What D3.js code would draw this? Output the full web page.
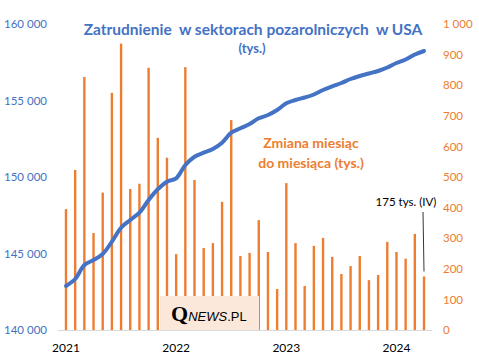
<!DOCTYPE html>
<html><head><meta charset="utf-8">
<script src="https://cdn.jsdelivr.net/npm/d3@7/dist/d3.min.js"></script>
<style>body{margin:0;background:#fff}svg{display:block}</style>
</head><body>
<svg id="c" width="479" height="364"></svg>
<script>
const months = d3.range(40).map(i => new Date(2021, i, 1));
const employment = [142876,143333,144248,144575,144967,145771,146686,147190,147667,148497,149196,149693,
  149915,150784,151327,151588,151830,152242,152896,153183,153464,153837,154052,154379,
  154817,155033,155196,155392,155686,155928,156144,156405,156601,156765,156928,157157,
  157451,157680,158007,158235];
const change = [395,523,827,317,449,775,936,461,478,857,628,563,
  248,859,490,268,284,419,686,242,252,359,255,134,
  480,284,144,275,301,239,183,209,242,163,180,288,
  255,233,314,175];
const leftTicks = [140000,145000,150000,155000,160000];
const rightTicks = [0,100,200,300,400,500,600,700,800,900,1000];
const yearLabels = ["2021","2022","2023","2024"];

const blue = "#4472C4", orange = "#ED7D31";
const font = "Lato, 'Open Sans', sans-serif";
const svg = d3.select("#c");

const x = d3.scaleBand().domain(d3.range(months.length)).range([58, 432]).padding(0.74);
const yL = d3.scaleLinear().domain([140000, 160000]).range([330, 24]);
const yR = d3.scaleLinear().domain([0, 1000]).range([330, 24]);
const cx = i => x(i) + x.bandwidth() / 2;

// bars
svg.append("g").selectAll("rect").data(change).join("rect")
  .attr("x", (d, i) => x(i)).attr("width", x.bandwidth())
  .attr("y", d => yR(d)).attr("height", d => yR(0) - yR(d))
  .attr("fill", orange);

// axis baseline
svg.append("line").attr("x1", 58).attr("x2", 432).attr("y1", 330.5).attr("y2", 330.5)
  .attr("stroke", "#d9d9d9").attr("stroke-width", 1);

// logo box
const logo = svg.append("g");
logo.append("rect").attr("x", 160).attr("y", 296).attr("width", 99).attr("height", 34).attr("fill", "#FCE8DA");
const lt = logo.append("text").attr("x", 171).attr("y", 321).attr("fill", "#000");
lt.append("tspan").attr("font-family", "'Liberation Serif', 'DejaVu Serif', serif").attr("font-weight", "bold").attr("font-size", 22).text("Q");
lt.append("tspan").attr("font-family", "'Liberation Sans', Arial, sans-serif").attr("font-style", "italic").attr("font-size", 13).text("NEWS");
lt.append("tspan").attr("font-family", "'Liberation Sans', Arial, sans-serif").attr("font-size", 13).text(".PL");

// line
svg.append("path").datum(employment)
  .attr("d", d3.line().x((d, i) => cx(i)).y(d => yL(d)).curve(d3.curveCatmullRom.alpha(0.5)))
  .attr("fill", "none").attr("stroke", blue).attr("stroke-width", 4).attr("stroke-linejoin", "round").attr("stroke-linecap", "round");

// left axis
const fmt = v => d3.format(",")(v).replace(/,/g, "\u00a0");
const la = svg.append("g").attr("transform", "translate(47,0)")
  .call(d3.axisLeft(yL).tickValues(leftTicks).tickSize(0).tickPadding(0).tickFormat(fmt));
la.select(".domain").remove();
la.selectAll("text").attr("fill", blue).attr("font-family", font).attr("font-size", 11.5);

// right axis
const ra = svg.append("g").attr("transform", "translate(443,0)")
  .call(d3.axisRight(yR).tickValues(rightTicks).tickSize(0).tickPadding(0).tickFormat(fmt));
ra.select(".domain").remove();
ra.selectAll("text").attr("fill", orange).attr("font-family", font).attr("font-size", 11.5);

// year labels
const xa = svg.append("g").attr("transform", "translate(0,339)")
  .call(d3.axisBottom(x).tickValues([0, 12, 24, 36]).tickSize(0).tickPadding(4)
    .tickFormat(i => yearLabels[i / 12]));
xa.select(".domain").remove();
xa.selectAll("text").attr("fill", "#000").attr("font-family", font).attr("font-size", 12);

// title
svg.append("text").attr("x", 253).attr("y", 35).attr("text-anchor", "middle")
  .attr("fill", blue).attr("font-family", font).attr("font-weight", "bold").attr("font-size", 15.5)
  .attr("xml:space", "preserve").text("Zatrudnienie  w sektorach pozarolniczych  w USA");
svg.append("text").attr("x", 252).attr("y", 53).attr("text-anchor", "middle")
  .attr("fill", blue).attr("font-family", font).attr("font-weight", "bold").attr("font-size", 13)
  .text("(tys.)");

// orange label
svg.append("text").attr("x", 311).attr("y", 148).attr("text-anchor", "middle")
  .attr("fill", orange).attr("font-family", font).attr("font-weight", "bold").attr("font-size", 14)
  .text("Zmiana miesiąc");
svg.append("text").attr("x", 311).attr("y", 168).attr("text-anchor", "middle")
  .attr("fill", orange).attr("font-family", font).attr("font-weight", "bold").attr("font-size", 14)
  .text("do miesiąca (tys.)");

// annotation
svg.append("line").attr("x1", 423).attr("y1", 212).attr("x2", cx(39)).attr("y2", yR(change[39]) - 5)
  .attr("stroke", "#000").attr("stroke-width", 0.8);
svg.append("text").attr("x", 406).attr("y", 206).attr("text-anchor", "middle")
  .attr("fill", "#000").attr("font-family", font).attr("font-size", 11.5)
  .text(change[39] + " tys. (IV)");
</script>
</body></html>
